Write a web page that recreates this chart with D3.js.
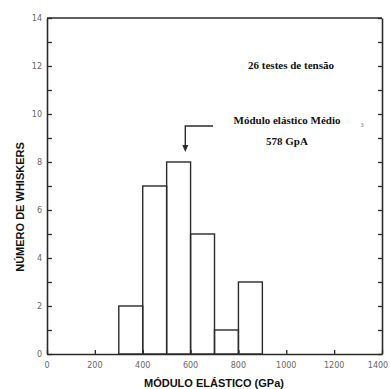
<!DOCTYPE html>
<html>
<head>
<meta charset="utf-8">
<script src="https://cdn.jsdelivr.net/npm/d3@7"></script>
<style>
  html, body { margin: 0; padding: 0; background: #fff; }
  svg { display: block; }
</style>
</head>
<body>
<svg id="chart" width="390" height="389"></svg>
<script>
// bins of elastic modulus (GPa) and whisker counts
var binStarts = [300, 400, 500, 600, 700, 800];
var binWidth = 100;
var counts = [2, 7, 8, 5, 1, 3];
var xTicks = [0, 200, 400, 600, 800, 1000, 1200, 1400];
var yTicks = [0, 2, 4, 6, 8, 10, 12, 14];
var meanModulus = 578;

var svg = d3.select('#chart');
var plotLeft = 47, plotRight = 382, plotTop = 18, plotBottom = 354;

var x = d3.scaleLinear().domain([0, 1400]).range([plotLeft, plotRight]);
var y = d3.scaleLinear().domain([0, 14]).range([plotBottom, plotTop]);

var ink = '#2b2b2b';
var tickInk = '#666';

// bars
svg.append('g').selectAll('rect')
  .data(binStarts)
  .enter().append('rect')
  .attr('x', function(d) { return x(d); })
  .attr('y', function(d, i) { return y(counts[i]); })
  .attr('width', function(d) { return x(d + binWidth) - x(d); })
  .attr('height', function(d, i) { return y(0) - y(counts[i]); })
  .attr('fill', 'none')
  .attr('stroke', ink)
  .attr('stroke-width', 1.4);

function styleAxis(g) {
  g.select('.domain').attr('stroke', ink).attr('stroke-width', 1.6);
  g.selectAll('.tick line').attr('stroke', ink).attr('stroke-width', 1.3);
}

// left axis, ticks inward
var yAxis = d3.axisRight(y)
  .tickValues(d3.range(0, 15, 1))
  .tickSize(5)
  .tickSizeOuter(0)
  .tickFormat('');
svg.append('g').attr('transform', 'translate(' + plotLeft + ',0)').call(yAxis).call(styleAxis);

// right axis, ticks inward
var yAxisR = d3.axisLeft(y)
  .tickValues(d3.range(0, 15, 1))
  .tickSize(4)
  .tickSizeOuter(0)
  .tickFormat('');
svg.append('g').attr('transform', 'translate(' + plotRight + ',0)').call(yAxisR).call(styleAxis);

// bottom axis, ticks inward
var xAxis = d3.axisTop(x).tickValues(xTicks).tickSize(4).tickSizeOuter(0).tickFormat('');
svg.append('g').attr('transform', 'translate(0,' + plotBottom + ')').call(xAxis).call(styleAxis);

// top frame
svg.append('line')
  .attr('x1', x(0)).attr('x2', x(1400))
  .attr('y1', y(14)).attr('y2', y(14))
  .attr('stroke', ink).attr('stroke-width', 1.6);

// tick labels
svg.append('g').selectAll('text')
  .data(yTicks)
  .enter().append('text')
  .attr('x', plotLeft - 5)
  .attr('y', function(d) { return y(d) + 3; })
  .attr('text-anchor', 'end')
  .attr('font-family', 'DejaVu Sans, sans-serif')
  .attr('font-size', 8)
  .attr('fill', tickInk)
  .text(function(d) { return d; });

svg.append('g').selectAll('text')
  .data(xTicks)
  .enter().append('text')
  .attr('x', function(d) { return Math.min(x(d), 378); })
  .attr('y', 368)
  .attr('text-anchor', 'middle')
  .attr('font-family', 'DejaVu Sans, sans-serif')
  .attr('font-size', 8)
  .attr('fill', tickInk)
  .text(function(d) { return d; });

// axis titles
svg.append('text')
  .attr('transform', 'translate(24,207) rotate(-90)')
  .attr('text-anchor', 'middle')
  .attr('font-family', 'Liberation Sans, Arial, sans-serif')
  .attr('font-weight', 'bold')
  .attr('font-size', 11)
  .attr('fill', '#111')
  .text('NÚMERO DE WHISKERS');

svg.append('text')
  .attr('x', 214)
  .attr('y', 387)
  .attr('text-anchor', 'middle')
  .attr('font-family', 'Liberation Sans, Arial, sans-serif')
  .attr('font-weight', 'bold')
  .attr('font-size', 11)
  .attr('fill', '#111')
  .text('MÓDULO ELÁSTICO (GPa)');

// mean marker arrow
var arrowY = 126;
svg.append('path')
  .attr('d', 'M' + 213 + ',' + arrowY + 'H' + x(meanModulus) + 'V' + 147)
  .attr('fill', 'none')
  .attr('stroke', ink)
  .attr('stroke-width', 1.4);
svg.append('path')
  .attr('d', 'M' + (x(meanModulus) - 3) + ',145L' + x(meanModulus) + ',152L' + (x(meanModulus) + 3) + ',145Z')
  .attr('fill', ink);

// annotations
var serif = 'Liberation Serif, Times New Roman, serif';
svg.append('text')
  .attr('x', 291).attr('y', 69)
  .attr('text-anchor', 'middle')
  .attr('font-family', serif).attr('font-weight', 'bold').attr('font-size', 11)
  .attr('fill', '#111')
  .text('26 testes de tensão');
svg.append('text')
  .attr('x', 287).attr('y', 124)
  .attr('text-anchor', 'middle')
  .attr('font-family', serif).attr('font-weight', 'bold').attr('font-size', 11)
  .attr('fill', '#111')
  .text('Módulo elástico Médio');
svg.append('text')
  .attr('x', 287).attr('y', 145)
  .attr('text-anchor', 'middle')
  .attr('font-family', serif).attr('font-weight', 'bold').attr('font-size', 11)
  .attr('fill', '#111')
  .text(meanModulus + ' GpA');

// stray scan mark near right axis
svg.append('text')
  .attr('x', 362).attr('y', 127)
  .attr('text-anchor', 'middle')
  .attr('font-family', serif).attr('font-size', 8)
  .attr('fill', '#888')
  .text('з');
</script>
</body>
</html>
